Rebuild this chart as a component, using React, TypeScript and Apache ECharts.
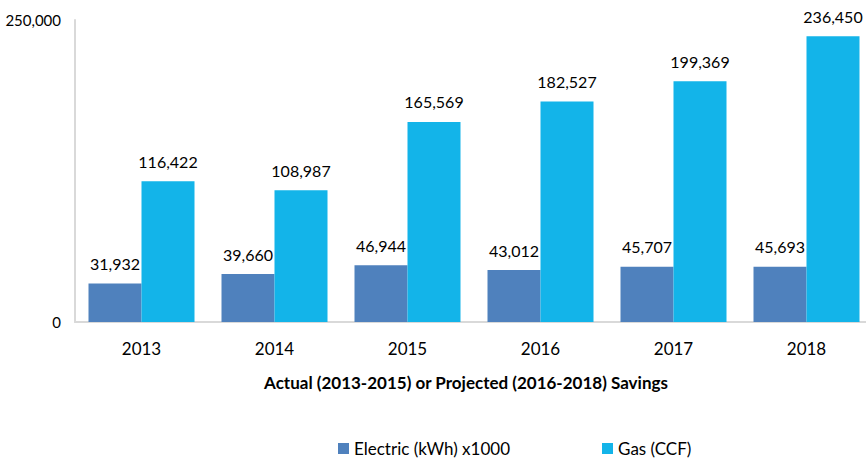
import React, { useEffect, useRef } from "react";
import * as echarts from "echarts";

const categories = ["2013", "2014", "2015", "2016", "2017", "2018"];
const electric = [31932, 39660, 46944, 43012, 45707, 45693];
const gas = [116422, 108987, 165569, 182527, 199369, 236450];
const yTicks = [0, 250000];

const FONT = "Lato, 'Open Sans', sans-serif";

export default function App() {
  const ref = useRef<HTMLDivElement>(null);
  useEffect(() => {
    document.body.style.margin = "0";
    const chart = echarts.init(ref.current!, null, { renderer: "svg" });
    const fmt = (v: number) => v.toLocaleString("en-US");
    const label = {
      show: true,
      position: "top" as const,
      distance: 12,
      color: "#000",
      fontSize: 16,
      fontFamily: FONT,
      formatter: (p: any) => fmt(p.value),
    };
    chart.setOption({
      animation: false,
      textStyle: { fontFamily: FONT },
      grid: { left: 75, right: 0, top: 20, bottom: 136, containLabel: false },
      legend: {
        left: 333,
        top: 435,
        itemWidth: 11,
        itemHeight: 11,
        itemGap: 92,
        icon: "rect",
        textStyle: { fontSize: 17, color: "#000", fontFamily: FONT },
        data: ["Electric (kWh) x1000", "Gas (CCF)"],
      },
      xAxis: {
        type: "category",
        data: categories,
        name: "Actual (2013-2015) or Projected (2016-2018) Savings",
        nameLocation: "middle",
        nameGap: 52,
        nameTextStyle: { fontSize: 17, fontWeight: "bold", color: "#000", fontFamily: FONT, padding: [0, 16, 0, 0] },
        axisLine: { lineStyle: { color: "#d9d9d9", width: 2 } },
        axisTick: { show: false },
        axisLabel: { fontSize: 17, color: "#000", margin: 18, fontFamily: FONT },
      },
      yAxis: {
        type: "value",
        min: yTicks[0],
        max: yTicks[1],
        interval: yTicks[1] - yTicks[0],
        splitLine: { show: false },
        axisLine: { show: true, lineStyle: { color: "#d9d9d9", width: 2 } },
        axisTick: { show: false },
        axisLabel: { fontSize: 15, color: "#000", margin: 14, fontFamily: FONT, formatter: (v: number) => fmt(v) },
      },
      series: [
        {
          name: "Electric (kWh) x1000",
          type: "bar",
          data: electric,
          barWidth: 53,
          barGap: "0%",
          barCategoryGap: "20%",
          itemStyle: { color: "#4F81BD" },
          label,
        },
        {
          name: "Gas (CCF)",
          type: "bar",
          data: gas,
          barWidth: 53,
          itemStyle: { color: "#13B4E9" },
          label,
        },
      ],
    });
    return () => chart.dispose();
  }, []);
  return (
    <div style={{ width: 866, height: 458, overflow: "hidden" }}>
      <div ref={ref} style={{ width: 873, height: 458 }} />
    </div>
  );
}
